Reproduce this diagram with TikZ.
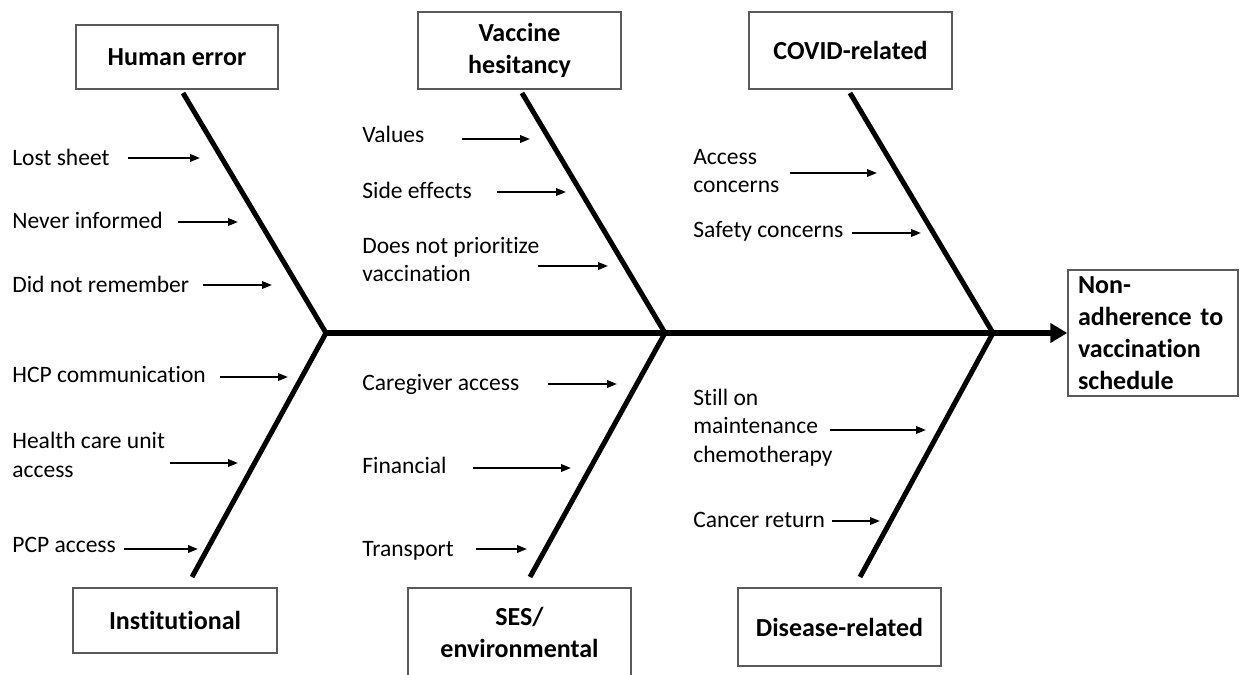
\documentclass[tikz,border=0pt]{standalone}
\usepackage{fontspec}
\setmainfont{Carlito}[Ligatures=NoCommon]
\usetikzlibrary{arrows.meta}
\definecolor{boxline}{HTML}{5A5A5A}

\begin{document}
\begin{tikzpicture}[x=0.02cm, y=-0.02cm,
    box/.style={draw=boxline, line width=0.03cm, align=center, inner sep=0pt,
      font=\fontsize{14.8}{18.2}\selectfont\bfseries},
    bone/.style={line width=0.1cm, line join=miter},
    spine/.style={line width=0.11cm, -{Triangle[length=0.34cm, width=0.38cm]}},
    lbl/.style={anchor=base west, align=left, inner sep=0pt,
      font=\fontsize{13.4}{16.2}\selectfont},
    cause/.style={line width=0.04cm, -{Triangle[length=0.2cm, width=0.15cm]}},
  ]
    \useasboundingbox (0,0) rectangle (1240,675);
    \clip (0,0) rectangle (1240,675);

    % category boxes
    \node[box, minimum width=4.04cm, minimum height=1.28cm] (he) at (177,57) {Human error};
    \node[box, minimum width=4.06cm, minimum height=1.54cm] (vh) at (519.5,50.5) {Vaccine\\hesitancy};
    \node[box, minimum width=4.06cm, minimum height=1.54cm] (cr) at (850.5,50.5) {COVID-related};
    \node[box, minimum width=4.08cm, minimum height=1.30cm] (in) at (175,620.5) {Institutional};
    \node[box, minimum width=4.46cm, minimum height=1.76cm] (se) at (519.5,632) {SES/\\environmental};
    \node[box, minimum width=4.06cm, minimum height=1.56cm] (dr) at (839.5,627) {Disease-related};

    % effect
    \node[box, align=left, text width=3.0cm, inner xsep=0.2cm, minimum height=2.52cm] (na) at (1153,333)
      {Non-\\adherence to\\vaccination\\schedule};

    % bones
    \coordinate (j1) at (326,333);
    \coordinate (j2) at (665,333);
    \coordinate (j3) at (993,333);
    \coordinate (heb) at (183,93);
    \coordinate (inb) at (192,577);
    \coordinate (vhb) at (522,93);
    \coordinate (seb) at (530,577);
    \coordinate (crb) at (850,93);
    \coordinate (drb) at (860,577);
    \draw[bone] (heb) -- (j1) -- (inb);
    \draw[bone] (vhb) -- (j2) -- (seb);
    \draw[bone] (crb) -- (j3) -- (drb);
    \draw[spine] (j1) -- (na);

    % Human error
    \foreach \n/\ly/\ay/\ax/\bx/\txt in {1/166/158/128/200/{Lost sheet},
        2/229/222/178/238/{Never informed}, 3/293/285/203/272/{Did not remember}} {
      \node[lbl] (c\n) at (12,\ly) {\txt};
      \coordinate (t\n) at (\ax,\ay);
      \coordinate (h\n) at (\bx,\ay);
      \draw[cause] (t\n) -- (h\n);
    }

    % Institutional
    \foreach \n/\ly/\ay/\ax/\bx/\txt in {4/382/377/220/288/{HCP communication},
        5/477/463/170/238/{Health care unit\\access}, 6/552/549/124/198/{PCP access}} {
      \node[lbl] (c\n) at (12,\ly) {\txt};
      \coordinate (t\n) at (\ax,\ay);
      \coordinate (h\n) at (\bx,\ay);
      \draw[cause] (t\n) -- (h\n);
    }

    % Vaccine hesitancy
    \foreach \n/\ly/\ay/\ax/\bx/\txt in {7/143/139/462/530/{Values},
        8/199/192/497/566/{Side effects}, 9/282/266/538/608/{Does not prioritize\\vaccination}} {
      \node[lbl] (c\n) at (362,\ly) {\txt};
      \coordinate (t\n) at (\ax,\ay);
      \coordinate (h\n) at (\bx,\ay);
      \draw[cause] (t\n) -- (h\n);
    }

    % SES/environmental
    \foreach \n/\ly/\ay/\ax/\bx/\txt in {10/390/384/548/617/{Caregiver access},
        11/473/468/473/571/{Financial}, 12/556/549/476/527/{Transport}} {
      \node[lbl] (c\n) at (362,\ly) {\txt};
      \coordinate (t\n) at (\ax,\ay);
      \coordinate (h\n) at (\bx,\ay);
      \draw[cause] (t\n) -- (h\n);
    }

    % COVID-related
    \foreach \n/\ly/\ay/\ax/\bx/\txt in {13/193/173/790/877/{Access\\concerns},
        14/238/233/852/921/{Safety concerns}} {
      \node[lbl] (c\n) at (693,\ly) {\txt};
      \coordinate (t\n) at (\ax,\ay);
      \coordinate (h\n) at (\bx,\ay);
      \draw[cause] (t\n) -- (h\n);
    }

    % Disease-related
    \foreach \n/\ly/\ay/\ax/\bx/\txt in {15/462/430/830/926/{Still on\\maintenance\\chemotherapy},
        16/527/521/832/880/{Cancer return}} {
      \node[lbl] (c\n) at (693,\ly) {\txt};
      \coordinate (t\n) at (\ax,\ay);
      \coordinate (h\n) at (\bx,\ay);
      \draw[cause] (t\n) -- (h\n);
    }
\end{tikzpicture}
\end{document}
